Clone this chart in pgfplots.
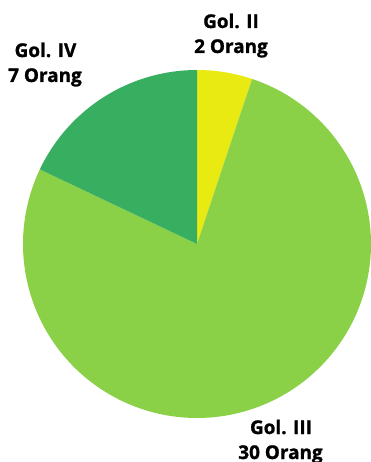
\documentclass[border=0pt]{standalone}
\usepackage{fontspec}
\setmainfont{Open Sans}[BoldFeatures={FakeBold=1.2}]
\usepackage{pgfplots}
\pgfplotsset{compat=1.18}
\definecolor{cII}{RGB}{232,234,18}
\definecolor{cIII}{RGB}{139,209,72}
\definecolor{cIV}{RGB}{56,175,96}
% data (Orang)
\def\vII{2}
\def\vIII{30}
\def\vIV{7}
\pgfmathsetmacro{\tot}{\vII+\vIII+\vIV}
\pgfmathsetmacro{\aA}{90}
\pgfmathsetmacro{\aB}{\aA-360*\vII/\tot}
\pgfmathsetmacro{\aC}{\aB-360*\vIII/\tot}
\pgfmathsetmacro{\aD}{\aC-360*\vIV/\tot}
\begin{document}
\begin{tikzpicture}
\path[use as bounding box, clip] (0,0) rectangle (371bp,462bp);
\begin{axis}[at={(0,0)}, anchor=south west, scale only axis,
  width=371bp, height=462bp, xmin=0, xmax=371, ymin=0, ymax=462,
  hide axis, clip=false]
\addplot[fill=cII, draw=none, domain=\aB:\aA, samples=40, variable=\t]
  ({197+174*cos(\t)},{218+174*sin(\t)}) -- (197,218) -- cycle;
\addplot[fill=cIII, draw=none, domain=\aC:\aB, samples=200, variable=\t]
  ({197+174*cos(\t)},{218+174*sin(\t)}) -- (197,218) -- cycle;
\addplot[fill=cIV, draw=none, domain=\aD:\aC, samples=60, variable=\t]
  ({197+174*cos(\t)},{218+174*sin(\t)}) -- (197,218) -- cycle;
\begin{scope}[every node/.style={anchor=base, inner sep=0pt, font=\fontsize{19}{23}\selectfont\bfseries}]
\node at (231,434) {Gol. II};
\node at (231,409) {2 Orang};
\node at (45.5,405) {Gol. IV};
\node at (45,380) {7 Orang};
\node at (281,28) {Gol. III};
\node at (280.5,3) {30 Orang};
\end{scope}
\end{axis}
\end{tikzpicture}
\end{document}
